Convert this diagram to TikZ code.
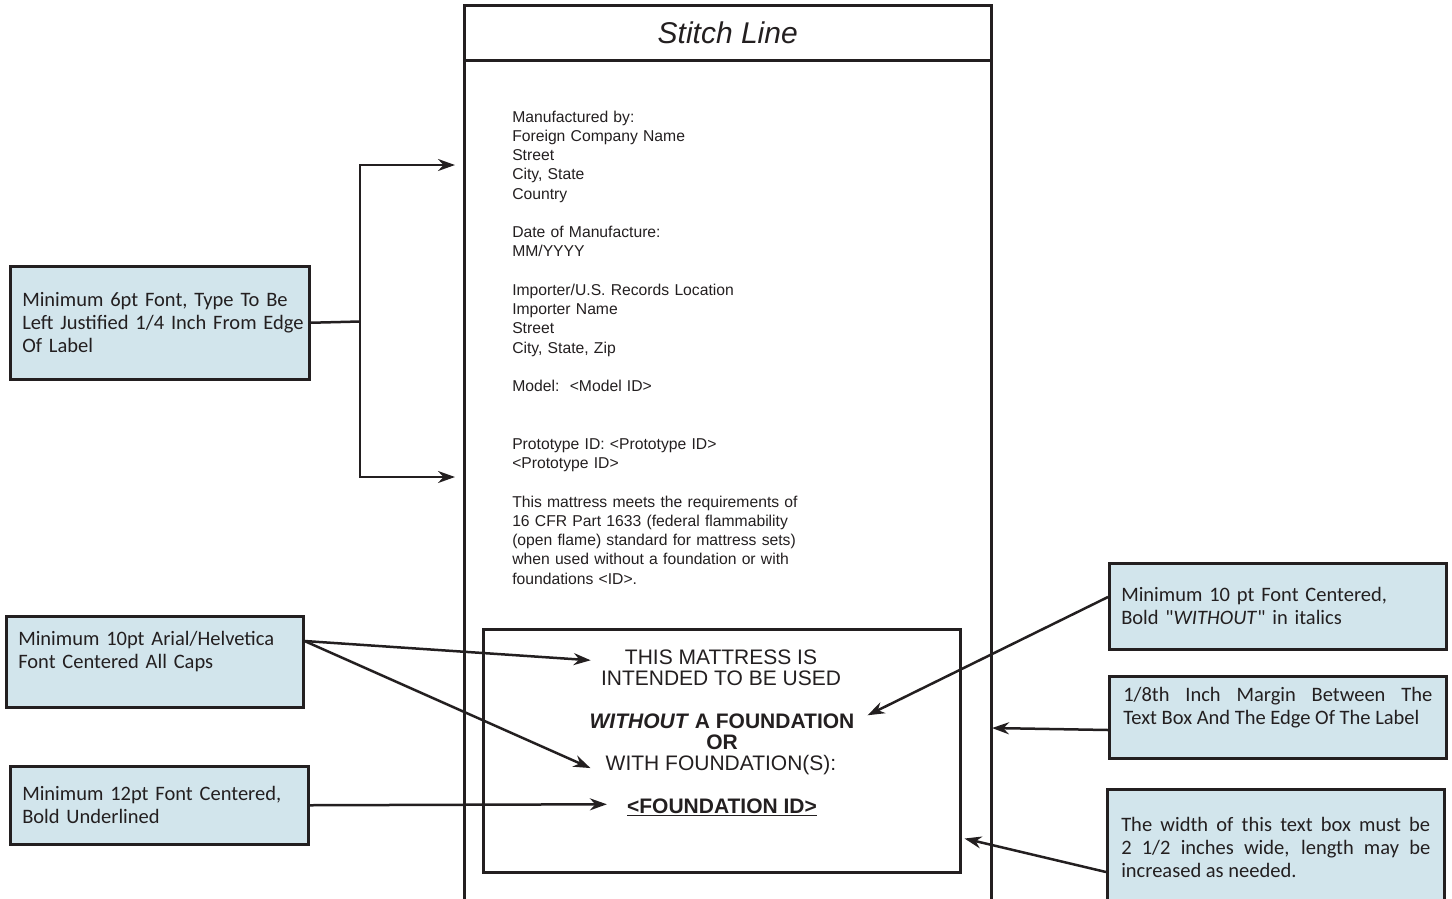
\documentclass[tikz,border=0pt]{standalone}
\usepackage{fontspec}
\setmainfont{Liberation Sans}
\newfontfamily\calibri{Carlito}
\usetikzlibrary{arrows.meta}
\definecolor{ink}{RGB}{35,31,32}
\definecolor{notefill}{RGB}{210,229,236}

\begin{document}
\begin{tikzpicture}[x=1pt, y=-1pt, color=ink, line width=2.5pt, >={Stealth[length=17pt,width=12pt]},
  body/.style={anchor=base west, inner sep=0pt, text width=300pt, align=left, font=\fontsize{15.7}{19.25}\selectfont},
  warn/.style={anchor=base, inner sep=0pt, font=\fontsize{21}{21}\selectfont},
  warnbold/.style={warn, font=\fontsize{21}{21}\selectfont\bfseries},
  note/.style={rectangle, draw, fill=notefill, anchor=north west, inner xsep=12pt, inner ysep=0pt, align=left, font=\calibri\fontsize{20.5}{23}\selectfont}]

\useasboundingbox (0,0) rectangle (1452,898);

\node (stitch) at (463,4) [anchor=north west, rectangle, draw, minimum width=527pt, minimum height=55pt, inner sep=0pt, font=\fontsize{30}{36}\selectfont\itshape]{Stitch Line};
\node (label) at (463,59) [anchor=north west, rectangle, draw, minimum width=527pt, minimum height=860pt]{};

\node (maker) at (511,122) [body]{Manufactured by:\\Foreign Company Name\\Street\\City, State\\Country};
\node (made) at (511,237.5) [body]{Date of Manufacture:\\MM/YYYY};
\node (importer) at (511,295.25) [body]{Importer/U.S. Records Location\\Importer Name\\Street\\City, State, Zip};
\node (model) at (511,391.5) [body]{Model:~~<Model ID>};
\node (proto) at (511,449.25) [body]{Prototype ID: <Prototype ID>\\<Prototype ID>};
\node (meets) at (511,507) [body]{This mattress meets the requirements of\\16 CFR Part 1633 (federal flammability\\(open flame) standard for mattress sets)\\when used without a foundation or with\\foundations <ID>.};

\node (tbox) at (482,628) [anchor=north west, rectangle, draw, minimum width=477pt, minimum height=243pt]{};

\node (w1) at (721,664.5) [warn]{THIS MATTRESS IS};
\node (w2) at (721,685.5) [warn]{INTENDED TO BE USED};
\node (w3) at (722,728.5) [warnbold]{\textit{WITHOUT} A FOUNDATION};
\node (w4) at (722,749.5) [warnbold]{OR};
\node (w5) at (721,770.5) [warn]{WITH FOUNDATION(S):};
\node (w6) at (722,813.5) [warnbold]{\underline{<FOUNDATION ID>}};

\node (sixpt) at (9,265) [note, minimum height=113pt, text width=275pt]{Minimum 6pt Font, Type To Be\\\mbox{Left Justified 1/4 Inch From Edge}\\Of Label};
\node (tenpt) at (5,615) [note, minimum height=91pt, text width=273pt]{Minimum 10pt Arial/Helvetica\\Font Centered All Caps\\\mbox{}};
\node (twelvept) at (9,765) [note, minimum height=78pt, text width=274pt]{Minimum 12pt Font Centered,\\Bold Underlined};

\node (italnote) at (1108,562) [note, minimum height=86pt, text width=313pt]{Minimum 10 pt Font Centered,\\Bold "\textit{WITHOUT}" in italics};
\node (marginnote) at (1108,675) [note, minimum height=82pt, text width=309pt, inner xsep=14pt, align=justify]{1/8th Inch Margin Between The\linebreak \mbox{Text Box And The Edge Of The Label}\\\mbox{}};
\node (widthnote) at (1106,788) [note, minimum height=116pt, text width=309pt, inner xsep=14pt, align=justify]{The width of this text box must be\linebreak 2 1/2 inches wide, length may be\linebreak increased as needed.};

\coordinate (fork) at (360,321.5);
\coordinate (up) at (455,165);
\coordinate (down) at (455,477);
\coordinate (edge) at (992,728);

\draw (sixpt.east) -- (fork);
\draw [->] (fork) |- (up);
\draw [->] (fork) |- (down);

\draw [->] ([yshift=-26pt]tenpt.north east) -- ([xshift=-33pt,yshift=-3pt]w1.west);
\draw [->] ([yshift=-26pt]tenpt.north east) -- ([xshift=-14pt,yshift=-3pt]w5.west);
\draw [->] (twelvept.east) -- ([xshift=-19pt,yshift=3pt]w6.west);

\draw [->] ([yshift=-35pt]italnote.north west) -- ([xshift=12pt,yshift=6pt]w3.east);
\draw [->] ([yshift=-55pt]marginnote.north west) -- (edge);
\draw [->] ([yshift=-84pt]widthnote.north west) -- ([xshift=3pt,yshift=35pt]tbox.south east);

\end{tikzpicture}
\end{document}
